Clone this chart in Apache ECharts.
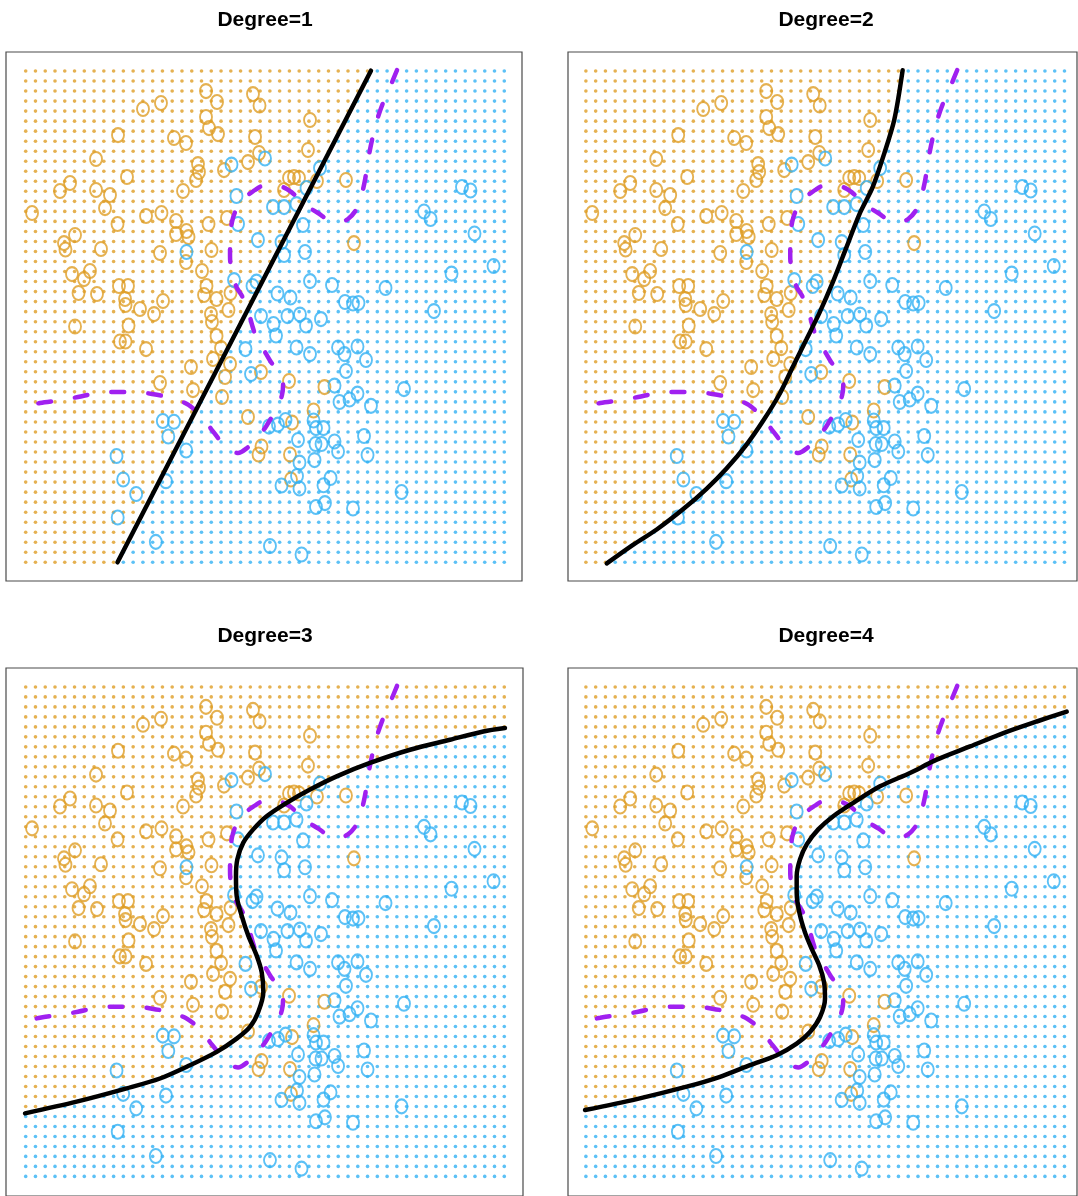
<!DOCTYPE html>
<html>
<head>
<meta charset="utf-8">
<script src="https://cdn.jsdelivr.net/npm/echarts@6/dist/echarts.min.js"></script>
<style>
html,body{margin:0;padding:0;background:#fff;}
#chart{width:1078px;height:1196px;}
</style>
</head>
<body>
<div id="chart"></div>
<script>
// ---------------- DATA (units: classification-grid steps, grid runs 0..49) ----------------
const panelTitles = ['Degree=1', 'Degree=2', 'Degree=3', 'Degree=4'];
const gridCols = 50;
const gridRows = 50;

// class "orange" observations
const orangeX = [12.01,13.85,18.46,19.59,23.27,23.94,9.45,15.18,16.41,18.46,18.77,19.69,23.48,29.11,7.20,28.90,23.89,22.76,17.64,17.74,17.44,20.30,10.37,4.54,3.51,7.20,8.63,16.11,26.96,27.47,27.98,26.45,29.82,32.79,8.12,0.65,12.32,13.90,9.40,15.39,20.61,18.72,5.05,3.92,4.07,7.71,13.75,15.39,16.46,16.67,16.41,19.02,18.05,33.61,4.74,6.58,5.97,9.55,10.47,5.41,7.30,10.17,14.06,10.22,11.70,13.14,18.51,18.26,19.54,20.97,20.76,18.97,19.07,19.54,20.00,19.18,20.92,20.41,16.92,17.13,20.10,5.05,10.53,9.65,10.22,12.32,13.75,24.09,26.96,22.76,30.59,29.47,27.27,24.14,23.84,27.06,27.16];
const orangeY = [45.21,45.81,47.00,45.91,46.70,45.56,42.61,42.32,41.82,44.41,43.31,42.71,42.42,44.11,40.22,41.12,40.82,39.92,39.72,38.92,38.13,39.12,38.43,37.83,37.03,37.13,36.63,37.03,38.33,38.43,38.33,37.13,38.03,38.13,35.33,34.84,34.54,34.84,33.74,34.04,34.34,33.74,32.64,31.84,31.20,31.25,30.85,32.74,33.04,32.44,29.95,31.15,29.05,31.84,28.75,29.05,28.25,27.56,27.56,26.86,26.76,26.26,26.06,25.66,25.26,24.76,27.56,26.66,26.26,26.86,25.16,24.76,23.97,22.57,21.37,20.28,19.78,18.48,19.48,17.18,16.49,23.52,23.62,22.02,22.02,21.27,17.88,18.98,18.08,14.49,17.48,15.14,13.94,11.55,10.75,10.75,8.26];

// class "blue" observations
const blueX = [21.07,24.50,30.13,21.58,25.32,26.45,27.73,28.75,21.74,23.78,28.39,26.19,26.45,28.60,16.46,21.33,23.22,23.63,29.11,31.36,25.78,27.11,32.69,33.51,34.07,24.09,25.37,26.80,28.08,28.70,30.23,25.63,22.50,27.73,29.11,31.98,32.64,33.97,34.84,32.79,23.07,31.62,32.13,33.15,33.97,35.35,38.73,24.91,25.83,26.60,29.47,29.72,30.49,27.88,29.67,30.29,31.62,31.98,29.57,28.03,27.78,26.19,28.03,30.49,31.21,29.72,30.64,33.51,25.01,28.24,34.64,35.00,38.48,44.67,45.54,40.78,41.45,45.95,47.90,43.60,36.84,41.80,14.04,15.18,14.60,16.43,9.30,9.98,11.31,14.36,9.42,13.32];
const blueY = [39.67,40.27,39.32,36.53,35.43,35.43,35.73,37.33,33.74,32.14,33.64,31.94,30.65,30.95,30.95,28.15,27.56,28.00,28.05,27.66,26.81,26.41,25.96,25.81,25.86,24.56,23.77,24.56,24.71,23.62,24.26,22.62,21.27,21.42,20.77,21.42,20.77,21.52,20.18,19.08,18.78,17.63,15.99,16.24,16.83,15.61,17.28,13.54,13.74,14.19,14.14,13.39,13.39,12.20,11.80,11.80,12.05,11.05,10.20,9.95,8.61,7.66,7.36,7.69,8.41,5.52,5.91,5.37,1.63,0.78,12.60,10.70,7.01,37.43,37.08,34.99,34.24,32.79,29.55,28.80,27.36,25.06,14.09,14.02,12.55,11.15,10.60,8.26,6.81,8.09,4.47,2.04];

// Bayes decision boundary (purple dashed), same in every panel
const bayesX = [38.02,37.30,36.58,35.97,35.46,35.05,34.74,34.33,33.82,33.00,32.18,31.16,29.93,28.60,27.06,25.53,24.19,23.48,22.25,21.53,21.12,20.92,20.92,21.12,21.63,22.15,22.66,23.27,23.78,24.50,25.11,26.04,26.35,26.24,25.73,25.01,24.50,23.58,22.66,21.74,20.61,19.07,18.15,17.33,16.51,14.98,12.93,11.19,8.94,7.40,5.35,3.72,1.46,-0.07];
const bayesY = [49.10,47.41,45.81,44.11,42.12,40.12,38.13,36.43,35.14,34.24,33.94,34.04,34.84,35.64,37.03,37.63,37.53,37.13,36.23,35.14,33.94,32.14,30.55,28.65,27.36,26.56,25.46,23.37,21.97,20.97,19.98,18.78,17.68,16.69,15.29,14.19,13.39,12.30,11.40,10.90,11.40,13.19,14.39,15.19,15.79,16.39,16.79,16.99,16.99,16.89,16.49,16.19,15.89,15.49];

// fitted logistic-regression boundaries (black), listed bottom to top
const deg1X = [9.40, 35.35];
const deg1Y = [0.00, 49.03];
const deg2X = [2.14,4.86,7.25,9.97,12.35,14.40,16.43,18.13,19.83,21.19,22.56,23.92,25.28,26.64,28.00,29.36,30.55,31.58,32.43];
const deg2Y = [-0.11,1.76,3.27,5.31,7.33,9.35,11.72,14.09,16.79,19.50,22.20,24.90,27.94,31.33,34.71,37.41,40.79,44.16,49.07];
const deg3X = [-0.07,5.22,10.34,13.75,16.82,19.56,21.60,22.96,23.81,24.33,24.16,23.65,22.79,22.12,21.60,21.53,21.67,22.28,23.30,24.67,26.72,29.11,31.84,35.25,39.35,43.44,46.85,49.07];
const deg3Y = [6.31,7.48,8.81,9.80,11.13,12.47,13.79,14.96,16.46,18.45,20.44,22.10,24.10,26.09,28.08,30.08,31.74,33.41,34.74,36.06,37.40,38.73,40.05,41.39,42.71,43.71,44.54,44.88];
const deg4X = [-0.09,5.20,10.32,13.73,16.80,19.54,21.58,22.94,23.97,24.48,24.38,23.90,23.12,22.43,21.85,21.58,21.58,21.92,22.61,23.79,25.33,27.38,30.11,33.18,35.92,39.33,42.74,46.16,49.23];
const deg4Y = [6.64,7.74,8.98,9.97,11.13,12.13,13.29,14.46,15.96,17.78,19.45,21.10,22.77,24.43,26.43,28.42,30.08,31.74,33.24,34.74,36.06,37.40,39.05,40.39,41.72,43.04,44.38,45.54,46.53];

// ---------------- STYLE / LAYOUT ----------------
const ORANGE = '#DE9D26';
const BLUE = '#33B1F4';
const PURPLE = '#A020F0';
const stepX = 9.767, stepY = 10.027; // pixels per grid unit
const layouts = [
  {dotL: 25.7,  dotT: 71,  boxL: 6,   boxR: 522,  boxT: 52,  boxB: 581,  tx: 265, ty: 20},
  {dotL: 585.9, dotT: 71,  boxL: 568, boxR: 1077, boxT: 52,  boxB: 581,  tx: 826, ty: 20},
  {dotL: 25.7,  dotT: 687, boxL: 6,   boxR: 523,  boxT: 668, boxB: 1198, tx: 265, ty: 636},
  {dotL: 585.9, dotT: 687, boxL: 568, boxR: 1077, boxT: 668, boxB: 1198, tx: 826, ty: 636}
];
const fits = [[deg1X, deg1Y], [deg2X, deg2Y], [deg3X, deg3Y], [deg4X, deg4Y]];

function boundaryAt(cx, cy, y) {
  if (y < cy[0]) return -Infinity;
  if (y > cy[cy.length - 1]) return Infinity;
  for (let i = 0; i < cy.length - 1; i++) {
    if (y >= cy[i] && y <= cy[i + 1]) {
      const t = (y - cy[i]) / (cy[i + 1] - cy[i]);
      return cx[i] + t * (cx[i + 1] - cx[i]);
    }
  }
  return Infinity;
}

const zip = (xs, ys) => xs.map((x, i) => [x, ys[i]]);

const grids = [], xAxes = [], yAxes = [], series = [], graphics = [];
layouts.forEach((L, p) => {
  grids.push({
    left: L.boxL, top: L.boxT, width: L.boxR - L.boxL, height: L.boxB - L.boxT,
    show: true, borderColor: '#4a4a4a', borderWidth: 1.2, backgroundColor: '#fff'
  });
  xAxes.push({
    type: 'value', gridIndex: p, show: false,
    min: -(L.dotL - L.boxL) / stepX,
    max: (gridCols - 1) + (L.boxR - L.dotL - (gridCols - 1) * stepX) / stepX
  });
  yAxes.push({
    type: 'value', gridIndex: p, show: false,
    max: (gridRows - 1) + (L.dotT - L.boxT) / stepY,
    min: -(L.boxB - L.dotT - (gridRows - 1) * stepY) / stepY
  });
  const [cx, cy] = fits[p];
  const gOrange = [], gBlue = [];
  for (let r = 0; r < gridRows; r++) {
    const cut = boundaryAt(cx, cy, r);
    for (let c = 0; c < gridCols; c++) {
      (c < cut ? gOrange : gBlue).push([c, r]);
    }
  }
  const common = {xAxisIndex: p, yAxisIndex: p, silent: true, animation: false};
  series.push(Object.assign({type: 'scatter', data: gOrange, symbol: 'circle', symbolSize: 3.6,
    itemStyle: {color: ORANGE}}, common));
  series.push(Object.assign({type: 'scatter', data: gBlue, symbol: 'circle', symbolSize: 3.6,
    itemStyle: {color: BLUE}}, common));
  series.push(Object.assign({type: 'scatter', data: zip(orangeX, orangeY), symbol: 'circle', symbolSize: [12, 14],
    itemStyle: {color: 'rgba(0,0,0,0)', borderColor: ORANGE, borderWidth: 2}}, common));
  series.push(Object.assign({type: 'scatter', data: zip(blueX, blueY), symbol: 'circle', symbolSize: [12, 14],
    itemStyle: {color: 'rgba(0,0,0,0)', borderColor: BLUE, borderWidth: 2}}, common));
  series.push(Object.assign({type: 'line', data: zip(bayesX, bayesY), showSymbol: false, smooth: 0.3,
    lineStyle: {color: PURPLE, width: 4.5, type: [13, 24], cap: 'round'}}, common));
  series.push(Object.assign({type: 'line', data: zip(cx, cy), showSymbol: false, smooth: p === 0 ? false : 0.3,
    lineStyle: {color: '#000', width: 4.5, cap: 'round'}}, common));
  graphics.push({
    type: 'text', x: L.tx, y: L.ty, silent: true,
    style: {text: panelTitles[p], align: 'center', verticalAlign: 'middle', textAlign: 'center', textVerticalAlign: 'middle',
      fontSize: 21, fontWeight: 'bold', fontFamily: '"Liberation Sans", Arial, sans-serif', fill: '#000'}
  });
});

const chart = echarts.init(document.getElementById('chart'), null, {renderer: 'canvas'});
chart.setOption({
  backgroundColor: '#fff',
  animation: false,
  grid: grids,
  xAxis: xAxes,
  yAxis: yAxes,
  series: series,
  graphic: graphics
});
</script>
</body>
</html>
